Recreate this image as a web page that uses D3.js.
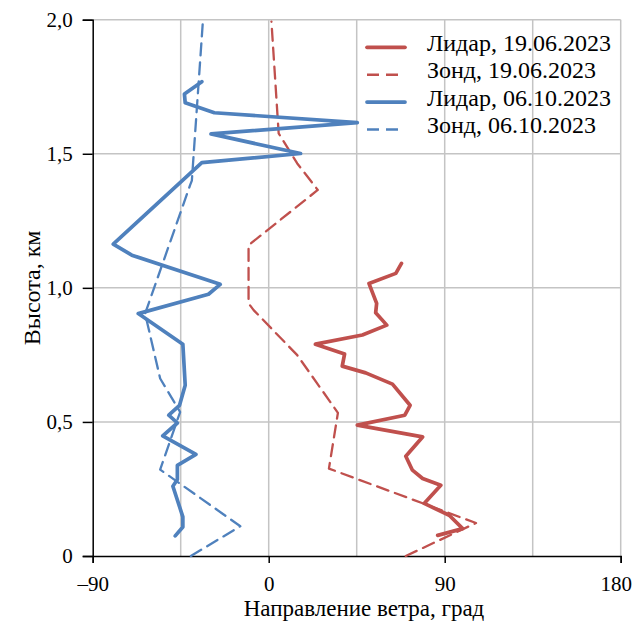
<!DOCTYPE html>
<html>
<head>
<meta charset="utf-8">
<script src="https://cdn.jsdelivr.net/npm/d3@7"></script>
<style>
body { margin: 0; background: #fff; }
</style>
</head>
<body>
<div id="chart"></div>
<script>
// Data: [direction (deg), height (km)]
var lidarJune = [[86.4,0.077],[99.2,0.102],[92.3,0.152],[79.5,0.196],[88,0.264],[78.7,0.289],[73.5,0.32],[70.1,0.372],[78.7,0.444],[45.3,0.488],[69.6,0.525],[72.3,0.562],[63.3,0.641],[49.6,0.683],[37.6,0.708],[38.8,0.753],[23.9,0.79],[47.9,0.824],[60.4,0.861],[54.7,0.907],[55.2,0.942],[51.3,1.016],[65,1.054],[67.9,1.091]];
var sondeJune = [[70.1,0],[106,0.123],[30.8,0.326],[35.4,0.534],[14.6,0.749],[-7.7,0.917],[-10.3,0.942],[-10.3,1.159],[25.1,1.365],[14.6,1.464],[5.1,1.576],[1.4,1.993]];
var lidarOct = [[-47.8,0.075],[-43.9,0.108],[-43.9,0.146],[-49,0.26],[-46.7,0.285],[-46.7,0.338],[-37.2,0.379],[-54.2,0.448],[-46.7,0.496],[-51.1,0.525],[-45.6,0.562],[-42.7,0.637],[-43.9,0.79],[-66.7,0.904],[-30.8,0.976],[-24.8,1.013],[-70,1.122],[-79.5,1.163],[-34.2,1.467],[16.3,1.501],[-29.5,1.574],[45.3,1.616],[-27.8,1.653],[-42.7,1.69],[-43.1,1.723],[-34.2,1.769]];
var sondeOct = [[-39.8,0],[-14.5,0.111],[-55.5,0.322],[-45.3,0.537],[-55.5,0.662],[-63.2,0.904],[-40.2,1.383],[-39.3,1.4],[-33.6,2.0]];

var seriesNames = ["Лидар, 19.06.2023", "Зонд, 19.06.2023", "Лидар, 06.10.2023", "Зонд, 06.10.2023"];
var xTicks = [-90, 0, 90, 180];
var xGrid = [-45, 0, 45, 90, 135, 180];
var yTicks = [0, 0.5, 1, 1.5, 2];

var FONT = "Liberation Serif";

var svgWidth = 633;
var svgHeight = 622;

var margin = { top: 19.7, right: 12.3, bottom: 66, left: 92.7 };
var chartWidth = svgWidth - margin.left - margin.right;
var chartHeight = svgHeight - margin.top - margin.bottom;

var svg = d3.select("#chart")
    .append("svg")
    .attr("width", svgWidth)
    .attr("height", svgHeight)
    .attr("font-family", FONT);

var chartGroup = svg.append("g")
    .attr("transform", `translate(${margin.left},${margin.top})`);

var xScale = d3.scaleLinear().domain([-90, 180]).range([0, chartWidth]);
var yScale = d3.scaleLinear().domain([0, 2]).range([chartHeight, 0]);

// gridlines
chartGroup.selectAll(".vgrid")
    .data(xGrid)
    .enter()
    .append("line")
    .attr("x1", d => xScale(d))
    .attr("x2", d => xScale(d))
    .attr("y1", 0)
    .attr("y2", chartHeight)
    .attr("stroke", "#c4c4c4")
    .attr("stroke-width", 1.5);

chartGroup.selectAll(".hgrid")
    .data(yTicks.slice(1))
    .enter()
    .append("line")
    .attr("x1", 0)
    .attr("x2", chartWidth)
    .attr("y1", d => yScale(d))
    .attr("y2", d => yScale(d))
    .attr("stroke", "#c4c4c4")
    .attr("stroke-width", 1.5);

// axes
var fmtX = d => d < 0 ? "–" + Math.abs(d) : String(d);
var fmtY = d => d === 0 ? "0" : d3.format(".1f")(d).replace(".", ",");

var bottomAxis = d3.axisBottom(xScale).tickValues(xTicks).tickFormat(fmtX).tickSize(7).tickPadding(13);
var leftAxis = d3.axisLeft(yScale).tickValues(yTicks).tickFormat(fmtY).tickSize(10).tickPadding(10);

var xAxis = chartGroup.append("g")
    .attr("transform", `translate(0, ${chartHeight})`)
    .call(bottomAxis);

var yAxis = chartGroup.append("g")
    .call(leftAxis);

[xAxis, yAxis].forEach(function (ax) {
    ax.attr("font-family", FONT).attr("font-size", 21);
    ax.select(".domain").attr("stroke", "#000").attr("stroke-width", 1.5);
    ax.selectAll(".tick line").attr("stroke", "#000").attr("stroke-width", 1.5);
    ax.selectAll("text").attr("fill", "#000");
});

// keep the last label inside the picture
xAxis.selectAll(".tick text").filter(d => d === 180).attr("dx", -5);

// lines
var line = d3.line()
    .x(d => xScale(d[0]))
    .y(d => yScale(d[1]));

var styles = [
    { data: lidarJune, color: "#c0504d", width: 3.7, dash: null },
    { data: sondeJune, color: "#c0504d", width: 2.3, dash: "12,7" },
    { data: lidarOct, color: "#4f81bd", width: 3.7, dash: null },
    { data: sondeOct, color: "#4f81bd", width: 2.3, dash: "12,7" }
];

styles.forEach(function (s) {
    chartGroup.append("path")
        .datum(s.data)
        .attr("d", line)
        .attr("fill", "none")
        .attr("stroke", s.color)
        .attr("stroke-width", s.width)
        .attr("stroke-dasharray", s.dash)
        .attr("stroke-linejoin", "round")
        .attr("stroke-linecap", "round");
});

// legend
var legend = svg.append("g");
styles.forEach(function (s, i) {
    var ly = 47.3 + i * 27.4;
    legend.append("line")
        .attr("x1", 367).attr("x2", 405)
        .attr("y1", ly).attr("y2", ly)
        .attr("stroke", s.color)
        .attr("stroke-width", s.dash ? 2.5 : 3.7)
        .attr("stroke-dasharray", s.dash)
        .attr("stroke-linecap", s.dash ? "butt" : "round");
    legend.append("text")
        .attr("x", 427)
        .attr("y", ly + 3.5)
        .attr("font-family", FONT)
        .attr("font-size", 24)
        .text(seriesNames[i]);
});

// axis titles
svg.append("text")
    .attr("transform", "rotate(-90)")
    .attr("x", -(margin.top + chartHeight / 2))
    .attr("y", 40)
    .attr("text-anchor", "middle")
    .attr("font-family", FONT)
    .attr("font-size", 24)
    .text("Высота, км");

svg.append("text")
    .attr("x", 364)
    .attr("y", 616)
    .attr("text-anchor", "middle")
    .attr("font-family", FONT)
    .attr("font-size", 23)
    .text("Направление ветра, град");
</script>
</body>
</html>
